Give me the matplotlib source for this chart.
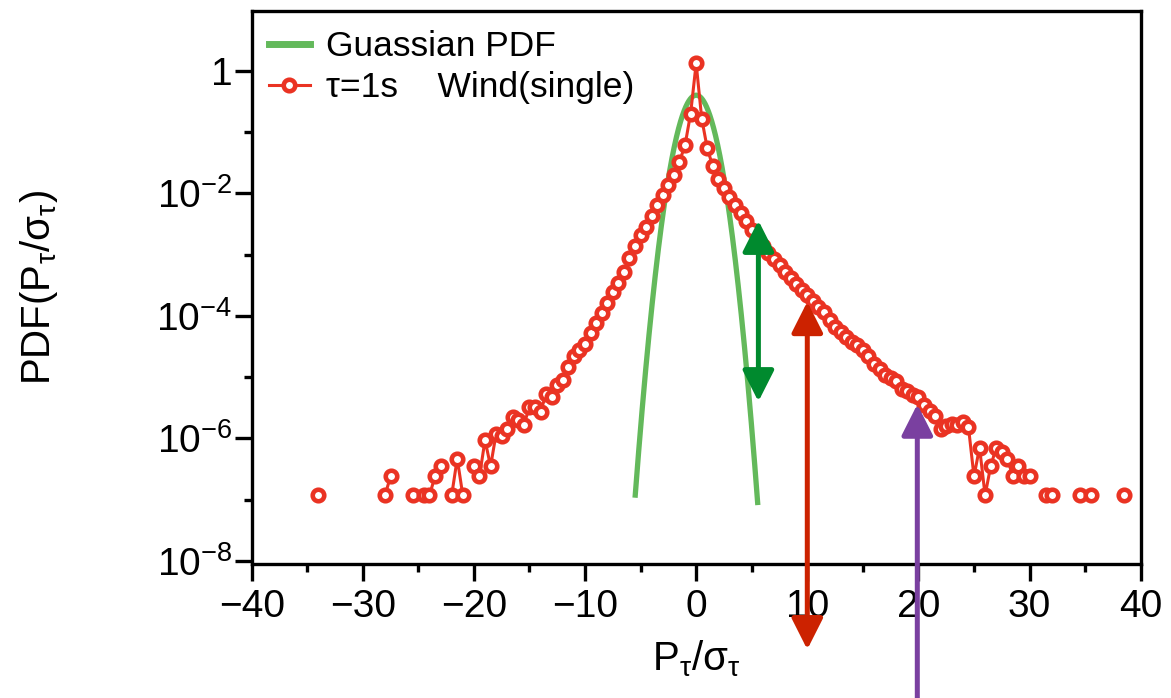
import numpy as np
import matplotlib
matplotlib.use("Agg")
import matplotlib.pyplot as plt
from matplotlib.lines import Line2D
from matplotlib.ticker import FixedLocator, FixedFormatter, NullFormatter

plt.rcParams['font.family'] = ['Liberation Sans', 'DejaVu Sans']
plt.rcParams['mathtext.fontset'] = 'custom'
plt.rcParams['mathtext.rm'] = 'Liberation Sans'
plt.rcParams['mathtext.it'] = 'Liberation Sans'
plt.rcParams['mathtext.default'] = 'regular'

# Normalised power increments (bin centres) and their PDF; NaN marks empty bins
pdf_x = [-34.0, -33.5, -28.0, -27.5, -27.0, -25.5, -25.0, -24.5, -24.0, -23.5,
         -23.0, -22.5, -22.0, -21.5, -21.0, -20.5, -20.0, -19.5, -19.0, -18.5,
         -18.0, -17.5, -17.0, -16.5, -16.0, -15.5, -15.0, -14.5, -14.0, -13.5,
         -13.0, -12.5, -12.0, -11.5, -11.0, -10.5, -10.0, -9.5, -9.0, -8.5,
         -8.0, -7.5, -7.0, -6.5, -6.0, -5.5, -5.0, -4.5, -4.0, -3.5,
         -3.0, -2.5, -2.0, -1.5, -1.0, -0.5, 0.0, 0.5, 1.0, 1.5,
         2.0, 2.5, 3.0, 3.5, 4.0, 4.5, 5.0, 5.5, 6.0, 6.5,
         7.0, 7.5, 8.0, 8.5, 9.0, 9.5, 10.0, 10.5, 11.0, 11.5,
         12.0, 12.5, 13.0, 13.5, 14.0, 14.5, 15.0, 15.5, 16.0, 16.5,
         17.0, 17.5, 18.0, 18.5, 19.0, 19.5, 20.0, 20.5, 21.0, 21.5,
         22.0, 22.5, 23.0, 23.5, 24.0, 24.5, 25.0, 25.5, 26.0, 26.5,
         27.0, 27.5, 28.0, 28.5, 29.0, 29.5, 30.0, 30.5, 31.5, 32.0,
         32.5, 34.5, 35.0, 35.5, 36.0, 38.5]
pdf_y = [1.18e-7, np.nan, 1.18e-7, 2.4e-7, np.nan, 1.18e-7, np.nan, 1.18e-7, 1.18e-7, 2.4e-7,
         3.5e-7, np.nan, 1.18e-7, 4.7e-7, 1.18e-7, np.nan, 3.5e-7, 2.4e-7, 9.4e-7, 3.5e-7,
         1.2e-6, 1.1e-6, 1.4e-6, 2.2e-6, 2.0e-6, 1.66e-6, 3.3e-6, 3.2e-6, 2.7e-6, 5.4e-6,
         4.8e-6, 7.4e-6, 8.9e-6, 1.48e-5, 2.2e-5, 2.75e-5, 3.5e-5, 5.2e-5, 7.6e-5, 1.1e-4,
         1.6e-4, 2.45e-4, 3.4e-4, 5.2e-4, 8.7e-4, 1.4e-3, 2.1e-3, 2.8e-3, 4.2e-3, 6.5e-3,
         9.3e-3, 1.35e-2, 2.0e-2, 3.3e-2, 6.1e-2, 0.20, 1.32, 0.166, 5.4e-2, 2.75e-2,
         1.74e-2, 1.2e-2, 8.7e-3, 6.5e-3, 4.7e-3, 3.5e-3, 2.5e-3, 1.8e-3, 1.38e-3, 1.07e-3,
         8.5e-4, 6.8e-4, 5.2e-4, 4.2e-4, 3.3e-4, 2.6e-4, 2.2e-4, 1.74e-4, 1.4e-4, 1.15e-4,
         8.5e-5, 6.6e-5, 5.5e-5, 4.6e-5, 3.8e-5, 3.3e-5, 2.75e-5, 2.2e-5, 1.66e-5, 1.38e-5,
         1.1e-5, 9.8e-6, 8.7e-6, 6.3e-6, 6.0e-6, 5.2e-6, 4.8e-6, 3.5e-6, 2.8e-6, 2.3e-6,
         1.45e-6, 1.6e-6, 1.74e-6, 1.66e-6, 1.86e-6, 1.55e-6, 2.4e-7, 7.1e-7, 1.18e-7, 3.5e-7,
         7.1e-7, 5.9e-7, 4.7e-7, 2.4e-7, 3.5e-7, 2.4e-7, 2.4e-7, np.nan, 1.18e-7, 1.18e-7,
         np.nan, 1.18e-7, np.nan, 1.18e-7, np.nan, 1.18e-7]

# Reference Gaussian (zero mean, unit variance) over the plotted span
gauss_mu = 0.0
gauss_sigma = 1.0
gauss_range = (-5.5, 5.55)

x_ticks = [-40, -30, -20, -10, 0, 10, 20, 30, 40]
x_minor = [-35, -25, -15, -5, 5, 15, 25, 35]
y_ticks = [1, 1e-2, 1e-4, 1e-6, 1e-8]
y_ticklabels = ['1', r'$10^{-2}$', r'$10^{-4}$', r'$10^{-6}$', r'$10^{-8}$']
y_minor = [1e-1, 1e-3, 1e-5, 1e-7]

# Scale markers: (x position, tail end, head end)
green_arrow = (5.6, 4.0e-6, 3.6e-3)
red_arrow = (10.0, 3.6e-10, 1.7e-4)
purple_arrow = (19.9, 1e-11, 3.6e-6)

RED = '#ea3323'
GREEN = '#63b95b'
MS, MEW = 8.3, 3.3

fig = plt.figure(figsize=(11.71, 6.98), dpi=100)
ax = fig.add_axes([0.2149, 0.192, 0.7592, 0.7922])

gx = np.linspace(gauss_range[0], gauss_range[1], 600)
gy = np.exp(-0.5 * ((gx - gauss_mu) / gauss_sigma) ** 2) / (gauss_sigma * np.sqrt(2 * np.pi))
ax.plot(gx, gy, color=GREEN, lw=3.8, zorder=2, solid_capstyle='butt')

ax.plot(pdf_x, pdf_y, color=RED, lw=2.2, marker='o', ms=MS, mfc='white',
        mec=RED, mew=MEW, zorder=3, solid_joinstyle='miter')


def vertical_arrow(spec, color, style):
    x, start, end = spec
    ax.annotate('', xy=(x, end), xytext=(x, start), xycoords='data',
                textcoords='data', annotation_clip=False,
                arrowprops=dict(arrowstyle=f'{style},head_length=0.95,head_width=0.48',
                                color=color, lw=3.6, shrinkA=0, shrinkB=0,
                                mutation_scale=20, clip_on=False),
                zorder=5)


vertical_arrow(green_arrow, '#008a2e', '<|-|>')
vertical_arrow(red_arrow, '#cc2200', '<|-|>')
vertical_arrow(purple_arrow, '#7a40a0', '-|>')

ax.set_yscale('log')
ax.set_xlim(-40, 40)
ax.set_ylim(10 ** -8.049, 10 ** 0.9745)

ax.xaxis.set_major_locator(FixedLocator(x_ticks))
ax.xaxis.set_major_formatter(FixedFormatter([str(t).replace('-', '\u2212') for t in x_ticks]))
ax.xaxis.set_minor_locator(FixedLocator(x_minor))
ax.xaxis.set_minor_formatter(NullFormatter())
ax.yaxis.set_major_locator(FixedLocator(y_ticks))
ax.yaxis.set_major_formatter(FixedFormatter(y_ticklabels))
ax.yaxis.set_minor_locator(FixedLocator(y_minor))
ax.yaxis.set_minor_formatter(NullFormatter())

ax.tick_params(which='both', direction='out', width=2.4, labelsize=28,
               top=False, right=False)
ax.tick_params(which='major', length=12)
ax.tick_params(which='minor', length=6)
ax.tick_params(axis='x', which='major', pad=6)
ax.tick_params(axis='y', which='major', pad=2)
for s in ax.spines.values():
    s.set_linewidth(2.4)

ax.set_xlabel(r'$P_{τ}/σ_{τ}$', fontsize=29, labelpad=10)
ax.set_ylabel(r'$PDF(P_{τ}/σ_{τ})$', fontsize=29, labelpad=69)

handles = [Line2D([], [], color=GREEN, lw=5),
           Line2D([], [], color=RED, lw=2.2, marker='o', ms=MS, mfc='white',
                  mec=RED, mew=MEW)]
labels = ['Guassian PDF', 'τ=1s    Wind(single)']
ax.legend(handles, labels, loc='upper left', bbox_to_anchor=(0.0194, 0.965),
          frameon=False, fontsize=25.5, handlelength=1.15, handletextpad=0.45,
          labelspacing=0.22, borderaxespad=0.0, borderpad=0.0, numpoints=1)

fig.savefig('out.png', dpi=100)
